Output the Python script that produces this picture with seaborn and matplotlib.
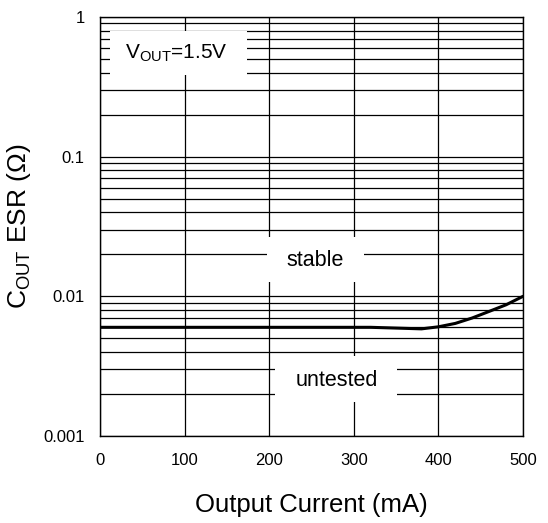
import numpy as np
import pandas as pd
import matplotlib
matplotlib.use("Agg")
import matplotlib.pyplot as plt
import seaborn as sns
from matplotlib.patches import Rectangle
from matplotlib.ticker import LogLocator, FixedLocator, FixedFormatter, NullFormatter

current_ma = [0, 50, 100, 150, 200, 250, 300, 320, 340, 360, 380, 400, 420, 440, 460, 480, 500]
esr_ohm = [0.006, 0.006, 0.006, 0.006, 0.006, 0.006, 0.006, 0.006, 0.00595, 0.0059, 0.00585, 0.00605, 0.0064, 0.0070, 0.0078, 0.0087, 0.0100]
x_ticks = [0, 100, 200, 300, 400, 500]
y_ticks = [0.001, 0.01, 0.1, 1]
y_tick_labels = ["0.001", "0.01", "0.1", "1"]

sns.set_theme(style="white")
plt.rcParams['font.family'] = ['Liberation Sans', 'DejaVu Sans']
plt.rcParams['mathtext.default'] = 'regular'

df = pd.DataFrame({"current": current_ma, "esr": esr_ohm})

fig = plt.figure(figsize=(5.48, 5.23), dpi=100)
ax = fig.add_axes([100/548, 1 - 436/523, 423/548, 419/523])

ax.set_yscale("log")
ax.set_xlim(0, 500)
ax.set_ylim(0.001, 1)

sns.lineplot(data=df, x="current", y="esr", ax=ax, color="black", linewidth=2.2, zorder=3)

ax.xaxis.set_major_locator(FixedLocator(x_ticks))
ax.yaxis.set_major_locator(FixedLocator(y_ticks))
ax.yaxis.set_major_formatter(FixedFormatter(y_tick_labels))
ax.yaxis.set_minor_locator(LogLocator(base=10, subs=np.arange(2, 10)))
ax.yaxis.set_minor_formatter(NullFormatter())
ax.grid(True, which="major", axis="both", color="black", linewidth=0.9)
ax.grid(True, which="minor", axis="y", color="black", linewidth=0.9)
ax.tick_params(axis="both", which="both", length=0, labelsize=12, colors="black")
ax.tick_params(axis="x", pad=12)
ax.tick_params(axis="y", pad=11)
for s in ax.spines.values():
    s.set_color("black")
    s.set_linewidth(1.0)

ax.set_xlabel("Output Current (mA)", fontsize=18.5, labelpad=18, color="black")
ax.set_ylabel("C$_{OUT}$ ESR (\u03a9)", fontsize=19, color="black")
ax.yaxis.set_label_coords(-0.158, 0.5)

# white label boxes (axes-fraction layout)
for (x0, y0, w, h) in [(0.024, 0.862, 0.324, 0.105),
                       (0.395, 0.368, 0.229, 0.107),
                       (0.414, 0.081, 0.288, 0.110)]:
    ax.add_patch(Rectangle((x0, y0), w, h, transform=ax.transAxes,
                           facecolor="white", edgecolor="none", zorder=4))

ax.text(90, 0.55, "V$_{OUT}$=1.5V", fontsize=15, ha="center", va="center", zorder=5, color="black")
ax.text(254, 0.0182, "stable", fontsize=15.5, ha="center", va="center", zorder=5, color="black")
ax.text(280, 0.00248, "untested", fontsize=15.5, ha="center", va="center", zorder=5, color="black")

fig.savefig("out.png", dpi=100, facecolor="white")
